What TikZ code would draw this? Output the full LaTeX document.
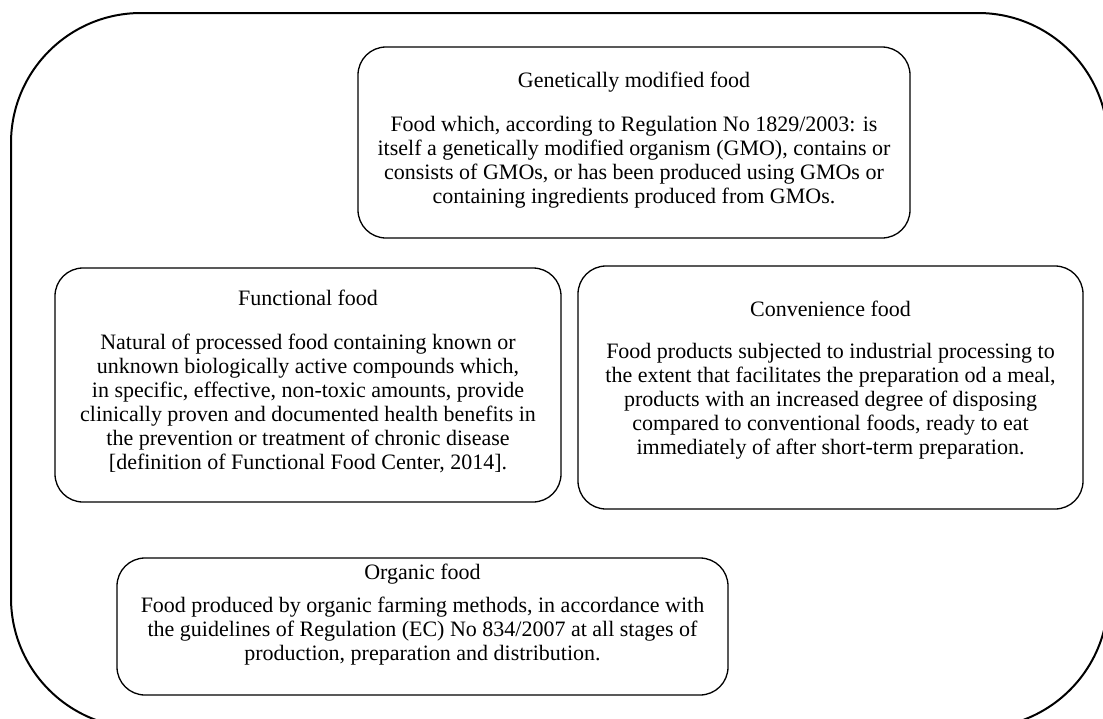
\documentclass[tikz,border=0pt]{standalone}
\usepackage{fontspec}
\setmainfont{Liberation Serif}
\begin{document}
\begin{tikzpicture}[x=1pt,y=-1pt,
  box/.style={draw=black,line width=1.3pt,rounded corners=28pt},
  outer/.style={draw=black,line width=2pt,rounded corners=130pt},
  ttl/.style={inner sep=0pt,font=\fontsize{22}{24}\selectfont},
  body/.style={inner sep=0pt,align=center,font=\fontsize{22}{24}\selectfont}]
\useasboundingbox (0,0) rectangle (1103,718);
\begin{scope}
\clip (0,0) rectangle (1103,718);
\draw[outer] (11,13) rectangle (1108,728);
\end{scope}
% boxes
\draw[box] (358,47) rectangle (910,238);
\draw[box] (55,268) rectangle (561,502);
\draw[box] (578,266) rectangle (1083,509);
\draw[box] (117,558) rectangle (728,695);
% GMO
\node[ttl] (gmt) at (634,82) {Genetically modified food};
\node[body] (gmb) at (634,162) {Food which, according to Regulation No 1829/2003: is\\itself a genetically modified organism (GMO), contains or\\consists of GMOs, or has been produced using GMOs or\\containing ingredients produced from GMOs.};
% Functional
\node[ttl] (fft) at (308,298) {Functional food};
\node[body] (ffb) at (308,403.5) {Natural of processed food containing known or\\unknown biologically active compounds which,\\in specific, effective, non-toxic amounts, provide\\clinically proven and documented health benefits in\\the prevention or treatment of chronic disease\\{[definition of Functional Food Center, 2014].}};
% Convenience
\node[ttl] (cft) at (830.5,309) {Convenience food};
\node[body] (cfb) at (830.5,401) {Food products subjected to industrial processing to\\the extent that facilitates the preparation od a meal,\\products with an increased degree of disposing\\compared to conventional foods, ready to eat\\immediately of after short-term preparation.};
% Organic
\node[ttl] (oft) at (422.5,574) {Organic food};
\node[body] (ofb) at (422.5,631) {Food produced by organic farming methods, in accordance with\\the guidelines of Regulation (EC) No 834/2007 at all stages of\\production, preparation and distribution.};
\end{tikzpicture}
\end{document}
